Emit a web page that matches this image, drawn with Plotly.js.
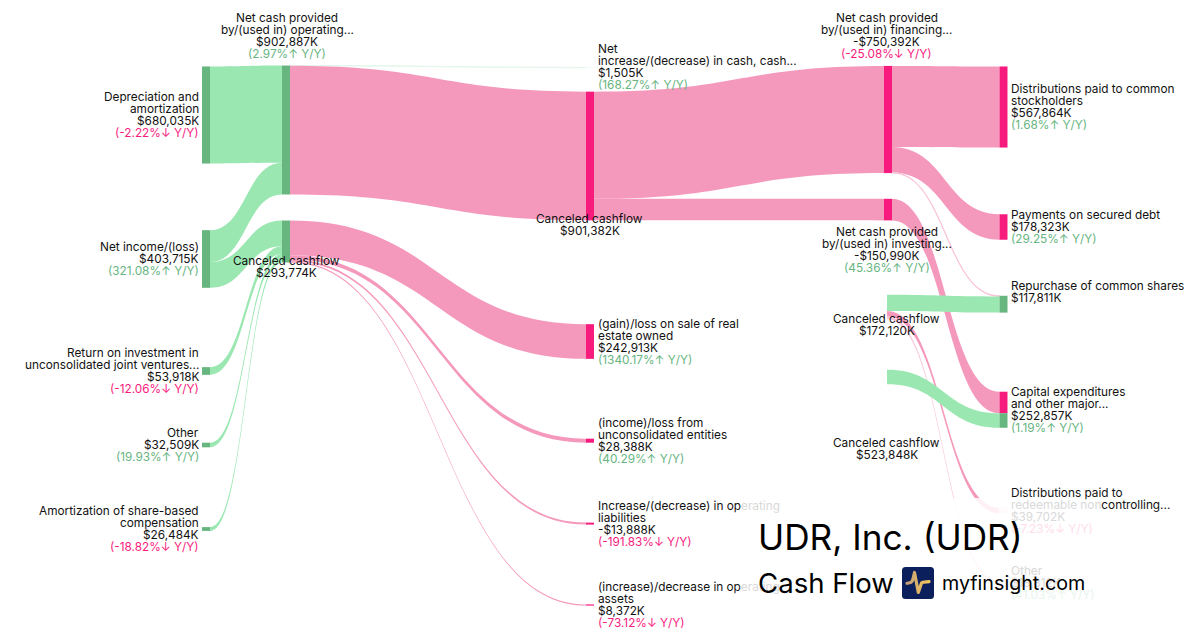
<!DOCTYPE html>
<html><head><meta charset="utf-8"><script src="https://cdn.plot.ly/plotly-3.0.1.min.js"></script>
<style>html,body{margin:0;padding:0;background:#fff}#c{width:1200px;height:630px}</style></head>
<body><div id="c"></div>
<script>
// ---------- data ----------
const nodeNames = ["Depreciation and amortization","Net income/(loss)","Return on investment","Other (operating)","Amortization of share-based compensation",
 "Net cash from operating","Canceled cashflow 1",
 "Net increase in cash","Canceled cashflow 2","Gain on sale","Income from entities","Increase in liabilities","Decrease in assets",
 "Net cash from financing","Net cash from investing","Canceled cashflow 3","Canceled cashflow 4",
 "Distributions","Secured debt","Repurchase","Capex (pink)","Capex (green)","Distributions redeemable","Other (financing)"];
const linkSources = [0,1,1,2,3,4, 5,5, 6,6,6,6, 8,8, 13,13,13, 14, 15,15, 15,16];
const linkTargets = [5,5,6,6,6,6, 7,8, 9,10,11,12, 13,14, 17,18,19, 20, 22,23, 19,21];
const linkValues  = [680035,222852,180863,53918,32509,26484, 1505,901382, 242913,28388,13888,8372, 750392,150990, 567864,178323,4205, 150990, 39702,18812, 113606,101867];
const linkKinds   = ["g","g","g","g","g","g", "l","p", "p","p","p","p", "p","p", "p","p","t", "p", "p","t", "g","g"];

const labelLines = [
 ["Depreciation and","amortization","$680,035K","(-2.22%↓ Y/Y)"],
 ["Net income/(loss)","$403,715K","(321.08%↑ Y/Y)"],
 ["Return on investment in","unconsolidated joint ventures...","$53,918K","(-12.06%↓ Y/Y)"],
 ["Other","$32,509K","(19.93%↑ Y/Y)"],
 ["Amortization of share-based","compensation","$26,484K","(-18.82%↓ Y/Y)"],
 ["Net cash provided","by/(used in) operating...","$902,887K","(2.97%↑ Y/Y)"],
 ["Canceled cashflow","$293,774K"],
 ["Net","increase/(decrease) in cash, cash...","$1,505K","(168.27%↑ Y/Y)"],
 ["Canceled cashflow","$901,382K"],
 ["(gain)/loss on sale of real","estate owned","$242,913K","(1340.17%↑ Y/Y)"],
 ["(income)/loss from","unconsolidated entities","$28,388K","(40.29%↑ Y/Y)"],
 [["Increase/(decrease) in op","erating"],"liabilities","-$13,888K","(-191.83%↓ Y/Y)"],
 [["(increase)/decrease in op","erating"],"assets","$8,372K","(-73.12%↓ Y/Y)"],
 ["Net cash provided","by/(used in) financing...","-$750,392K","(-25.08%↓ Y/Y)"],
 ["Net cash provided","by/(used in) investing...","-$150,990K","(45.36%↑ Y/Y)"],
 ["Canceled cashflow","$172,120K"],
 ["Canceled cashflow","$523,848K"],
 ["Distributions paid to common","stockholders","$567,864K","(1.68%↑ Y/Y)"],
 ["Payments on secured debt","$178,323K","(29.25%↑ Y/Y)"],
 ["Repurchase of common shares","$117,811K"],
 ["Capital expenditures","and other major...","$252,857K","(1.19%↑ Y/Y)"],
 ["Distributions paid to",["redeemable non","controlling..."],"$39,702K","(-7.23%↓ Y/Y)"],
 ["Other","$18,812K","(41.03%↑ Y/Y)"]
];

// ---------- layout of the marks ----------
const W = 1200, H = 630;
const nodeCx = [206,206,206,206,206, 286,286, 590,590,590,590,590,590, 888,888,883,883, 1003.5,1003.5,1003.5,1003.5,1003.5,1003.5,1003.5];
const nodeCy = [115,259,371,445,529, 130,241.5, 67.5,156,341.5,440.7,523.6,605, 119.5,209.6,307,377, 107,227,304.2,402.5,420.5,510.5,582];
const nodeStyle = ["g","g","g","g","g", "g","g", "l","p","p","p","p","p", "p","p","n","n", "p","p","g","p","g","f","h"];
const nodePalette = {g:"#67B57F",p:"#F81B7E",l:"#E4F7EA",n:"rgba(0,0,0,0)",f:"#FEDDEC",h:"#E8F4EC"};
const linkPalette = {g:"#9AE7B2",p:"#F599BC",l:"#E4F7EA",t:"#FAC6DA"};

// label placement: [x, anchor, first line y]
const labelPlace = [
 [199,"right",96.6],[199,"right",246.6],[199,"right",352.6],[199,"right",432.6],[199,"right",510.6],
 [287,"center",18],[286.5,"center",260.6],
 [598,"left",48.6],[589.5,"center",218.6],[598,"left",323.6],[598,"left",422.6],[598,"left",505.6],[598,"left",586.6],
 [886.5,"center",18],[886.5,"center",231.6],[886.5,"center",318.6],[886.5,"center",442.6],
 [1011,"left",88.6],[1011,"left",214.6],[1011,"left",285.6],[1011,"left",391.6],[1011,"left",492.6],[1011,"left",570.6]
];
const lineGap = 12, labelSize = 11.8;
const ink = "#111111", up = "#67B57F", down = "#F81B7E";
const fadedInk = "#D9D9D9", fadedUp = "#E8F4EC", fadedDown = "#FEDDEC";
const veil = {x0:740,x1:1101,y0:498,y1:604};
const logoBox = {x0:902,x1:934,y0:567,y1:599};
const inVeil = (x,y)=> x>=veil.x0 && y>=veil.y0 && y<=veil.y1 && x<veil.x1;

const px = x => x/W, py = y => 1-y/H;
const annotations = [];
function addText(text,x,y,anchor,size,color){
  annotations.push({xref:"paper",yref:"paper",x:px(x),y:py(y),xanchor:anchor,yanchor:"middle",text:text,showarrow:false,
    align:anchor,borderpad:0,borderwidth:0,font:{family:"Inter, sans-serif",size:size,color:color}});
}
labelLines.forEach((lines,i)=>{
  const [x,anchor,y0] = labelPlace[i];
  lines.forEach((ln,j)=>{
    const y = y0+j*lineGap;
    if(Array.isArray(ln)){
      // one line crossing the edge of the veil
      const isLeftFaded = x>=veil.x0;
      const a = isLeftFaded ? fadedInk : ink, b = isLeftFaded ? ink : fadedInk;
      addText(`<span style="color:${a}">${ln[0]}</span><span style="color:${b}">${ln[1]}</span>`,x,y,anchor,labelSize,ink);
      return;
    }
    const isUp = ln.includes("↑"), isDown = ln.includes("↓");
    const faded = inVeil(x,y) && i>=21;
    let c = faded ? fadedInk : ink;
    if(isUp) c = faded ? fadedUp : up;
    if(isDown) c = faded ? fadedDown : down;
    addText(ln,x,y,anchor,labelSize,c);
  });
});
addText("UDR, Inc. (UDR)",757.5,537,"left",35.2,"#000");
addText("Cash Flow",757.5,583,"left",27.6,"#000");
addText("myfinsight.com",942,583,"left",19.7,"#000");

const veilColor = "rgba(255,255,255,0.85)";
const veilRect = (x0,y0,x1,y1)=>({type:"rect",xref:"paper",yref:"paper",x0:px(x0),x1:px(x1),y0:py(y0),y1:py(y1),fillcolor:veilColor,line:{width:0},layer:"above"});
const shapes = [
 veilRect(veil.x0,veil.y0,logoBox.x0,veil.y1),
 veilRect(logoBox.x1,veil.y0,veil.x1,veil.y1),
 veilRect(logoBox.x0,veil.y0,logoBox.x1,logoBox.y0),
 veilRect(logoBox.x0,logoBox.y1,logoBox.x1,veil.y1)
];

const logoSvg = `<svg xmlns="http://www.w3.org/2000/svg" width="64" height="64" viewBox="0 0 32 32"><defs><linearGradient id="a" x1="0" x2="1" y1="0" y2="0"><stop offset="0" stop-color="#C79E78"/><stop offset="1" stop-color="#F3C75A"/></linearGradient></defs><rect width="32" height="32" rx="3.5" fill="#0A1F5C"/><path d="M5 16.3 C8 16 10 16 11 12 L12.5 5.5 L16.3 25.5 L19.5 16 C20.5 14.8 24 15 27 14.7" fill="none" stroke="url(#a)" stroke-width="3.2" stroke-linecap="round" stroke-linejoin="round"/></svg>`;

const trace = {
  type:"sankey", arrangement:"fixed",
  domain:{x:[0,1],y:[0,1]},
  node:{label:nodeNames.map(()=>""),customdata:nodeNames,x:nodeCx.map(px),y:nodeCy.map(c=>c/H),
    color:nodeStyle.map(k=>nodePalette[k]),thickness:8,pad:77.6,line:{width:0},align:"left",hoverinfo:"none"},
  link:{source:linkSources,target:linkTargets,value:linkValues,color:linkKinds.map(k=>linkPalette[k]),line:{width:0},hoverinfo:"none"}
};
Plotly.newPlot("c",[trace],{
  width:W,height:H,margin:{l:0,r:0,t:0,b:0},paper_bgcolor:"#fff",showlegend:false,
  annotations:annotations,shapes:shapes,
  images:[{source:"data:image/svg+xml;charset=utf-8,"+encodeURIComponent(logoSvg),xref:"paper",yref:"paper",x:px(logoBox.x0),y:py(logoBox.y0),sizex:32/W,sizey:32/H,xanchor:"left",yanchor:"top",sizing:"stretch",layer:"above"}]
},{displayModeBar:false});
</script></body></html>
